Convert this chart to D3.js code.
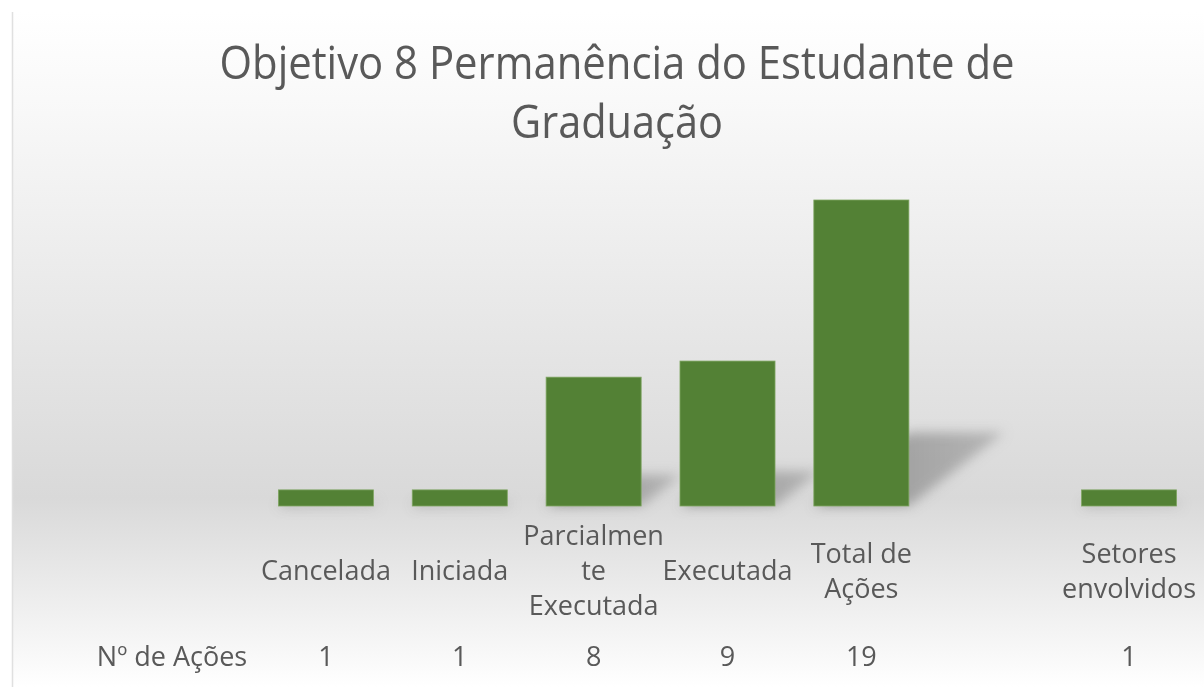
<!DOCTYPE html>
<html>
<head>
<meta charset="utf-8">
<script src="https://cdn.jsdelivr.net/npm/d3@7"></script>
<style>
  body { margin: 0; background: #ffffff; }
  text { font-family: "Open Sans", sans-serif; fill: #595959; }
</style>
</head>
<body>
<svg id="chart" width="1204" height="687"></svg>
<script>
// chart data
var categories = ['Cancelada', 'Iniciada', 'Parcialmente Executada', 'Executada', 'Total de Ações', '', 'Setores envolvidos'];
var tickLines = [['Cancelada'], ['Iniciada'], ['Parcialmen', 'te', 'Executada'], ['Executada'], ['Total de', 'Ações'], [], ['Setores', 'envolvidos']];
var values = [1, 1, 8, 9, 19, null, 1];
var seriesName = 'Nº de Ações';
var titleLines = ['Objetivo 8 Permanência do Estudante de', 'Graduação'];

var W = 1204, H = 687,
  BASE_Y = 506,
  TOP_Y = 200,
  BAR_COLOR = '#538135',
  FONT = '27px';

var svg = d3.select('#chart');
var defs = svg.append('defs');

// background gradient like the office preset
var grad = defs.append('linearGradient')
  .attr('id', 'bg')
  .attr('x1', 0).attr('y1', 0).attr('x2', 0).attr('y2', 1);
grad.append('stop').attr('offset', '0%').attr('stop-color', '#ffffff');
grad.append('stop').attr('offset', '15%').attr('stop-color', '#f8f8f8');
grad.append('stop').attr('offset', '72%').attr('stop-color', '#d9d9d9');
grad.append('stop').attr('offset', '100%').attr('stop-color', '#ffffff');

// shadow gets darker near the bar
var sgrad = defs.append('linearGradient')
  .attr('id', 'shade')
  .attr('x1', 0).attr('y1', 0).attr('x2', 1).attr('y2', 0);
sgrad.append('stop').attr('offset', '0%').attr('stop-color', '#7a7a7a');
sgrad.append('stop').attr('offset', '100%').attr('stop-color', '#a8a8a8');

defs.append('filter')
  .attr('id', 'blur')
  .attr('x', '-50%').attr('y', '-50%').attr('width', '200%').attr('height', '200%')
  .append('feGaussianBlur')
  .attr('stdDeviation', 6);

svg.append('rect')
  .attr('x', 12).attr('y', 12)
  .attr('width', W - 12).attr('height', H - 12)
  .attr('fill', 'url(#bg)');

svg.append('line')
  .attr('x1', 12.5).attr('x2', 12.5)
  .attr('y1', 12).attr('y2', H)
  .attr('stroke', '#e0e0e0')
  .attr('stroke-width', 1.5);

// scales
var x = d3.scaleBand()
  .domain(categories)
  .range([259, 1196])
  .paddingInner(0.29)
  .paddingOuter(0.145);

var y = d3.scaleLinear()
  .domain([0, 19])
  .range([BASE_Y, TOP_Y]);

var barData = categories.map(function(c, i) {
  return { cat: c, value: values[i], lines: tickLines[i] };
}).filter(function(d) { return d.value !== null; });

// perspective shadows
svg.append('g')
  .attr('filter', 'url(#blur)')
  .selectAll('path')
  .data(barData)
  .enter()
  .append('path')
  .attr('d', function(d) {
    var h = y(0) - y(d.value),
      x0 = x(d.cat),
      x1 = x(d.cat) + x.bandwidth(),
      dx = h * 0.31,
      dy = h * 0.24;
    return 'M' + x0 + ',' + y(0) +
      'L' + (x0 + dx) + ',' + (y(0) - dy) +
      'L' + (x1 + dx) + ',' + (y(0) - dy) +
      'L' + x1 + ',' + y(0) + 'Z';
  })
  .attr('fill', 'url(#shade)')
  .attr('opacity', 0.75);

// bars
svg.append('g')
  .selectAll('rect')
  .data(barData)
  .enter()
  .append('rect')
  .attr('x', function(d) { return x(d.cat); })
  .attr('y', function(d) { return y(d.value); })
  .attr('width', x.bandwidth())
  .attr('height', function(d) { return y(0) - y(d.value); })
  .attr('fill', BAR_COLOR)
  .attr('stroke', '#7fa562')
  .attr('stroke-width', 0.8);

// category labels (wrapped as in the picture)
var LINE_H = 35;
var labels = svg.append('g')
  .selectAll('text')
  .data(categories.map(function(c, i) { return { cat: c, lines: tickLines[i] }; }))
  .enter()
  .append('text')
  .attr('text-anchor', 'middle')
  .style('font-size', FONT)
  .attr('y', function(d) { return 580 - (d.lines.length - 1) * LINE_H / 2; });

labels.selectAll('tspan')
  .data(function(d) { return d.lines.map(function(l) { return { cat: d.cat, line: l }; }); })
  .enter()
  .append('tspan')
  .attr('x', function(d) { return x(d.cat) + x.bandwidth() / 2; })
  .attr('dy', function(d, i) { return i === 0 ? 0 : LINE_H; })
  .text(function(d) { return d.line; });

// data table row
svg.append('text')
  .attr('x', 172)
  .attr('y', 666)
  .attr('text-anchor', 'middle')
  .style('font-size', FONT)
  .text(seriesName);

svg.append('g')
  .selectAll('text')
  .data(barData)
  .enter()
  .append('text')
  .attr('x', function(d) { return x(d.cat) + x.bandwidth() / 2; })
  .attr('y', 666)
  .attr('text-anchor', 'middle')
  .style('font-size', FONT)
  .text(function(d) { return d.value; });

// title
svg.append('text')
  .attr('x', 617)
  .attr('y', 79)
  .attr('text-anchor', 'middle')
  .attr('textLength', 795)
  .attr('lengthAdjust', 'spacingAndGlyphs')
  .style('font-size', '45px')
  .text(titleLines[0]);

svg.append('text')
  .attr('x', 617)
  .attr('y', 138)
  .attr('text-anchor', 'middle')
  .attr('textLength', 212)
  .attr('lengthAdjust', 'spacingAndGlyphs')
  .style('font-size', '45px')
  .text(titleLines[1]);
</script>
</body>
</html>
